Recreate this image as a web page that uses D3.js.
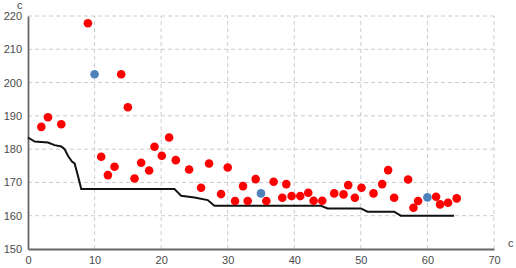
<!DOCTYPE html>
<html>
<head>
<meta charset="utf-8">
<script src="https://cdn.jsdelivr.net/npm/d3@7"></script>
<style>
  body { margin: 0; background: #fff; }
  text { font-family: "Liberation Sans", Arial, sans-serif; }
</style>
</head>
<body>
<div id="chart"></div>
<script>
// values
var redX = [2, 3, 5, 9, 11, 12, 13, 14, 15, 16, 17, 18.2, 19, 20.1, 21.2, 22.2, 24.2, 26, 27.2, 29, 30, 31.1, 32.3, 33, 34.2, 35.8, 36.9, 38.2, 38.8, 39.6, 40.9, 42.1, 42.9, 44.2, 46, 47.4, 48.1, 49.1, 50.1, 51.9, 53.2, 54.1, 55, 57.1, 57.9, 58.6, 61.3, 61.9, 63.1, 64.4];
var redY = [186.7, 189.6, 187.5, 217.8, 177.7, 172.2, 174.7, 202.5, 192.6, 171.2, 175.9, 173.6, 180.7, 178, 183.5, 176.7, 173.9, 168.4, 175.7, 166.5, 174.5, 164.4, 168.9, 164.4, 171, 164.4, 170.2, 165.4, 169.5, 165.9, 165.9, 166.9, 164.5, 164.5, 166.7, 166.4, 169.2, 165.4, 168.4, 166.7, 169.5, 173.7, 165.4, 170.9, 162.4, 164.4, 165.7, 163.4, 163.9, 165.2];
var blueX = [10, 35, 60];
var blueY = [202.5, 166.7, 165.5];
var lineX = [0, 1, 3, 4, 5, 5.5, 6, 6.6, 7, 7.5, 8, 22, 22.5, 23, 25, 27, 28, 44, 45, 50, 51, 55, 56, 64];
var lineY = [183.5, 182.3, 182, 181.2, 180.8, 180, 178, 176.3, 175.7, 172, 168, 168, 167, 166, 165.5, 164.7, 163, 163, 162.2, 162.2, 161.2, 161.2, 160, 160];
var xTicks = [0, 10, 20, 30, 40, 50, 60, 70];
var yTicks = [150, 160, 170, 180, 190, 200, 210, 220];

var width = 516, height = 268;

var svg = d3.select("#chart").append("svg")
    .attr("width", width)
    .attr("height", height);

var x = d3.scaleLinear().domain([0, 70]).range([28, 494]);
var y = d3.scaleLinear().domain([150, 220]).range([249, 16]);

// grid
svg.append("g").selectAll("line.h")
    .data(yTicks.slice(1))
    .enter().append("line")
    .attr("x1", x(0)).attr("x2", x(70))
    .attr("y1", function(d) { return y(d); })
    .attr("y2", function(d) { return y(d); })
    .attr("stroke", "#cccccc")
    .attr("stroke-dasharray", "4,3");

svg.append("g").selectAll("line.v")
    .data(xTicks.slice(1))
    .enter().append("line")
    .attr("y1", y(150)).attr("y2", y(220))
    .attr("x1", function(d) { return x(d); })
    .attr("x2", function(d) { return x(d); })
    .attr("stroke", "#cccccc")
    .attr("stroke-dasharray", "4,3");

// axes
var xAxis = svg.append("g")
    .attr("transform", "translate(0," + y(150) + ")")
    .call(d3.axisBottom(x).tickValues(xTicks).tickSize(0).tickPadding(7));
var yAxis = svg.append("g")
    .attr("transform", "translate(" + x(0) + ",0)")
    .call(d3.axisLeft(y).tickValues(yTicks).tickSize(0).tickPadding(6));

[xAxis, yAxis].forEach(function(a) {
    a.select(".domain").attr("stroke", "#666").attr("stroke-width", 1.8);
    a.selectAll("text").attr("fill", "#4a4a4a").style("font-size", "11px")
        .style("font-family", "'Liberation Sans', Arial, sans-serif");
});

// axis titles
svg.append("text").attr("x", 17).attr("y", 9).text("c")
    .attr("fill", "#444").style("font-size", "11px");
svg.append("text").attr("x", 508).attr("y", 247).text("c")
    .attr("fill", "#444").style("font-size", "11px");

// line
var pts = lineX.map(function(d, i) { return [d, lineY[i]]; });
svg.append("path")
    .datum(pts)
    .attr("fill", "none")
    .attr("stroke", "#111")
    .attr("stroke-width", 2)
    .attr("d", d3.line()
        .x(function(d) { return x(d[0]); })
        .y(function(d) { return y(d[1]); }));

// dots
svg.append("g").selectAll("circle")
    .data(redX)
    .enter().append("circle")
    .attr("cx", function(d) { return x(d); })
    .attr("cy", function(d, i) { return y(redY[i]); })
    .attr("r", 4.3)
    .attr("fill", "#ff0000");

svg.append("g").selectAll("circle")
    .data(blueX)
    .enter().append("circle")
    .attr("cx", function(d) { return x(d); })
    .attr("cy", function(d, i) { return y(blueY[i]); })
    .attr("r", 4.3)
    .attr("fill", "#4f81bd");
</script>
</body>
</html>
